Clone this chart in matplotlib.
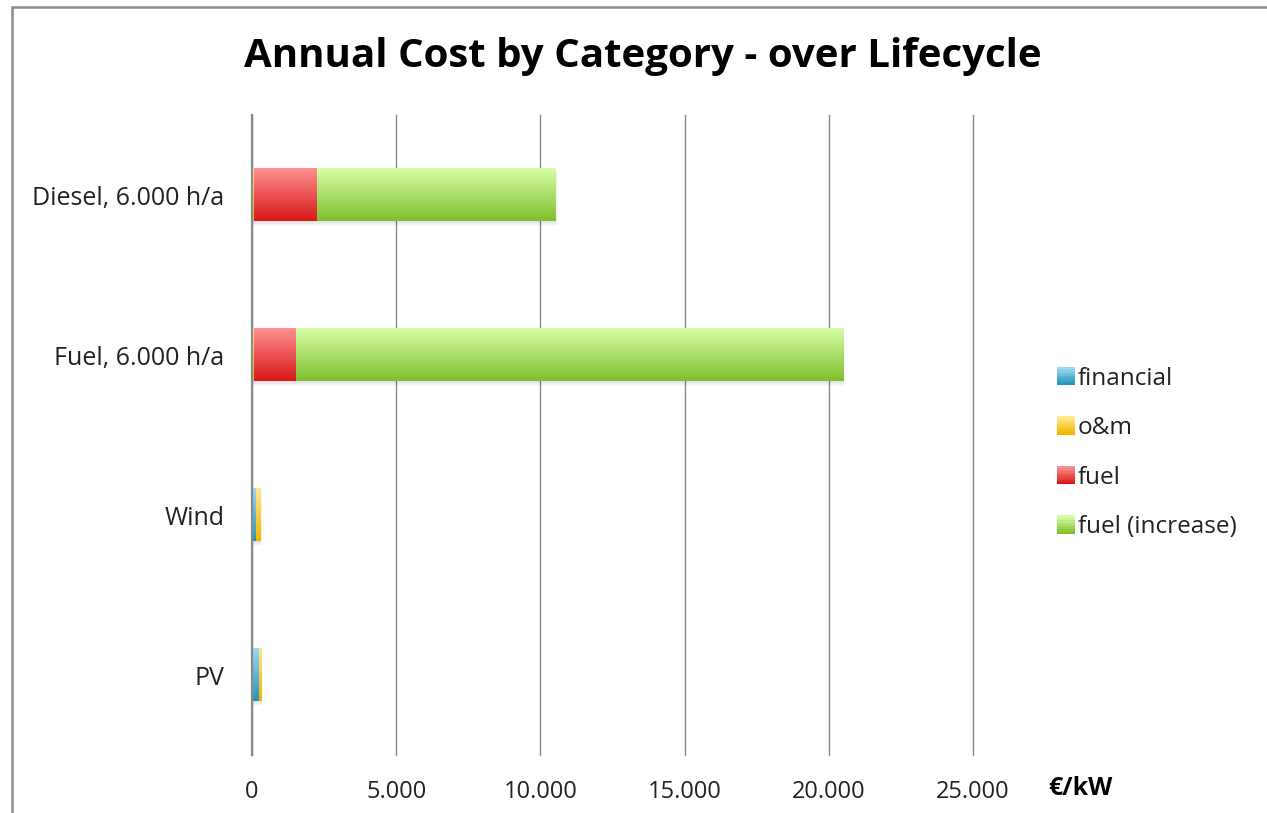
import numpy as np
import matplotlib.pyplot as plt
from matplotlib.patches import Rectangle
from matplotlib.legend_handler import HandlerBase
from matplotlib.ticker import FuncFormatter

plt.rcParams['font.family'] = ['Open Sans', 'DejaVu Sans']

categories = ['Diesel, 6.000 h/a', 'Fuel, 6.000 h/a', 'Wind', 'PV']
financial = [50, 50, 140, 230]
om = [20, 20, 150, 70]
fuel = [2200, 1450, 0, 0]
fuel_increase = [8270, 18970, 0, 0]

series = [financial, om, fuel, fuel_increase]
names = ['financial', 'o&m', 'fuel', 'fuel (increase)']
# (top colour, bottom colour) for the vertical gradient of each series
shades = [('#9bdaf2', '#2793b8'),
          ('#ffe98a', '#f2b400'),
          ('#ff9090', '#d81818'),
          ('#d8fda6', '#7fbf2e')]

xticks = [0, 5000, 10000, 15000, 20000, 25000]


def gradient(top, bottom, n=64):
    t = np.linspace(0, 1, n)[:, None]
    c1 = np.array(plt.matplotlib.colors.to_rgb(top))
    c2 = np.array(plt.matplotlib.colors.to_rgb(bottom))
    return (c1 * (1 - t) + c2 * t).reshape(n, 1, 3)


fig = plt.figure(figsize=(12.67, 8.13), dpi=100)
ax = fig.add_axes([0.1989, 0.0713, 0.5691, 0.7872])

ypos = np.arange(len(categories))[::-1]
h = 0.33

# soft shadow under the bars
for y, total in zip(ypos, np.sum(series, axis=0)):
    for k in range(5):
        ax.add_patch(Rectangle((0, y - h / 2 - 0.006 * (k + 1)), total + 15 * k, h,
                               facecolor='#000000', alpha=0.025, lw=0, zorder=1))

left = np.zeros(len(categories))
for vals, (top, bot) in zip(series, shades):
    img = gradient(top, bot)
    for y, l, w in zip(ypos, left, vals):
        if w <= 0:
            continue
        ax.imshow(img, extent=(l, l + w, y - h / 2, y + h / 2), aspect='auto',
                  origin='upper', interpolation='bilinear', zorder=2)
    left += np.array(vals)

ax.set_xlim(0, 25000)
ax.set_ylim(-0.5, len(categories) - 0.5)
ax.set_xticks(xticks)
ax.xaxis.set_major_formatter(FuncFormatter(lambda v, p: f'{int(v):,}'.replace(',', '.')))
ax.set_yticks(ypos)
ax.set_yticklabels(categories)
ax.tick_params(axis='x', length=0, pad=18, labelsize=17, colors='#222222')
ax.tick_params(axis='y', length=0, pad=20, labelsize=18, colors='#222222')
ax.grid(axis='x', color='#8a8a8a', lw=1.0, zorder=0)
for gl in ax.get_xgridlines():
    gl.set_clip_on(False)
ax.set_axisbelow(True)
for s in ['top', 'right', 'bottom']:
    ax.spines[s].set_visible(False)
ax.spines['left'].set_color('#8a8a8a')
ax.spines['left'].set_linewidth(1.6)
ax.spines['left'].set_zorder(3)

fig.text(643 / 1267, 1 - 57 / 813, 'Annual Cost by Category - over Lifecycle',
         ha='center', va='center', fontsize=29, fontweight='bold')
fig.text(1080 / 1267, 1 - 788 / 813, '€/kW', ha='center', va='center',
         fontsize=18, fontweight='bold')

# outer chart frame
fig.add_artist(Rectangle((12 / 1267, -0.1), 1.2, 1 - 7 / 813 + 0.1,
                         transform=fig.transFigure, fill=False,
                         edgecolor='#8c8c8c', lw=1.8))


class GradientHandler(HandlerBase):
    def create_artists(self, legend, orig, xd, yd, width, height, fontsize, trans):
        top, bot = orig.shades
        s = 13
        x0 = xd + width - s
        y0 = yd + (height - s) / 2
        arts = []
        n = 8
        c1 = np.array(plt.matplotlib.colors.to_rgb(top))
        c2 = np.array(plt.matplotlib.colors.to_rgb(bot))
        for i in range(n):
            t = i / (n - 1)
            col = c2 * (1 - t) + c1 * t
            arts.append(Rectangle((x0, y0 + i * s / n), s, s / n + 0.3,
                                  facecolor=col, lw=0, transform=trans))
        return arts


handles = []
for (top, bot), name in zip(shades, names):
    p = Rectangle((0, 0), 1, 1)
    p.shades = (top, bot)
    handles.append(p)

fig.legend(handles, names, handler_map={Rectangle: GradientHandler()},
           loc='center left', bbox_to_anchor=(1035 / 1267, 1 - 453 / 813),
           frameon=False, fontsize=17.5, labelspacing=1.05, handlelength=0.75,
           handletextpad=0.1, labelcolor='#222222')

fig.savefig('out.png', dpi=100)
